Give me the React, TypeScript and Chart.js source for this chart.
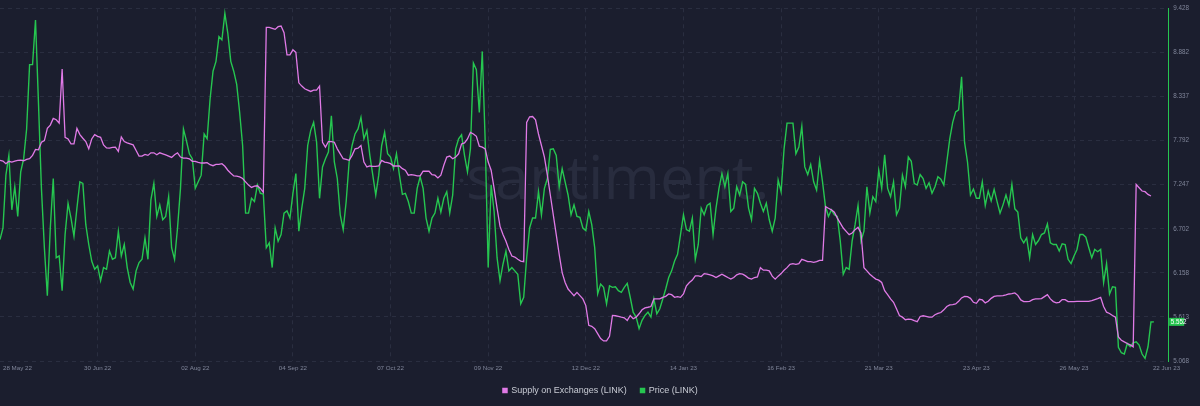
import { useEffect, useRef } from 'react';
import { Chart, registerables } from 'chart.js';

Chart.register(...registerables);

// ---- data (one value per day, day 0 = 28 May 2022) ----
const priceLink: number[] = [
  6.570, 6.712, 7.365, 7.610, 6.937, 7.222, 6.855, 7.406, 7.569, 7.936,
  8.731, 8.731, 9.282, 8.262, 7.202, 6.468, 5.876, 6.712, 7.324, 6.345,
  6.366, 5.937, 6.631, 7.018, 6.835, 6.610, 6.957, 7.283, 7.263, 6.753,
  6.508, 6.304, 6.202, 6.243, 6.060, 6.223, 6.202, 6.427, 6.325, 6.345,
  6.672, 6.366, 6.508, 6.223, 6.039, 5.958, 6.182, 6.284, 6.325, 6.590,
  6.325, 7.059, 7.263, 6.855, 6.998, 6.814, 6.855, 7.100, 6.468, 6.325,
  6.712, 7.202, 7.936, 7.793, 7.630, 7.569, 7.202, 7.283, 7.365, 7.875,
  7.814, 8.303, 8.650, 8.772, 9.078, 9.037, 9.364, 9.119, 8.772, 8.650,
  8.487, 8.140, 7.732, 6.896, 6.896, 7.079, 7.039, 7.243, 7.141, 7.132,
  6.468, 6.529, 6.223, 6.712, 6.549, 6.631, 6.896, 6.924, 6.835, 7.141,
  7.385, 6.672, 6.957,
  7.202, 7.732, 7.916, 8.018, 7.773, 7.079, 7.467, 7.569, 7.650, 8.099,
  7.528, 7.324, 6.875, 6.692, 7.039, 7.528, 7.732, 7.875, 7.936, 8.079,
  7.814, 7.916, 7.610, 7.365, 7.120, 7.365, 7.732, 7.895, 7.630, 7.589,
  7.446, 7.630, 7.365, 7.128, 7.141, 7.039, 6.896, 6.896, 7.202, 7.344,
  7.202, 6.835, 6.672, 6.835, 6.896, 7.079, 6.908, 7.079, 7.161, 6.896,
  7.120, 7.691, 7.814, 7.863, 7.610, 7.406, 7.691, 8.752, 8.670, 8.140,
  8.895, 7.773, 6.223, 7.243, 6.916, 6.345, 6.060, 6.264, 6.427, 6.182,
  6.223, 6.182, 6.141, 5.774, 5.856, 6.345, 6.712, 6.835, 6.835, 7.161,
  6.875, 7.202, 7.324, 7.683, 7.691, 7.610, 7.222, 7.446, 7.283, 7.120,
  6.875, 6.998, 6.855, 6.843, 6.712, 6.680, 6.916, 6.753, 6.468, 5.897,
  6.019, 5.978, 5.774, 5.998, 5.978, 5.986, 5.937, 5.917, 5.978, 6.027,
  5.856, 5.672, 5.611, 5.468, 5.570, 5.631, 5.672, 5.611, 5.835, 5.652,
  5.713, 5.835, 5.958, 6.100, 6.182, 6.304, 6.386, 6.631, 6.875, 6.692,
  6.672, 6.835, 6.325, 6.508, 6.957, 6.875, 6.990, 7.018, 6.631, 6.957,
  7.202, 7.385, 7.222, 7.385, 6.916, 6.957, 7.222, 7.120, 7.283, 7.251,
  6.957, 6.814, 7.202, 7.141, 7.018, 6.916, 7.018, 6.814, 6.672, 6.835,
  7.304, 7.161, 7.691, 8.009, 8.009, 8.009, 7.630, 7.712, 7.969, 7.467,
  7.373, 7.495, 7.283, 7.181, 7.548, 7.283, 6.977, 6.855, 6.937, 6.875,
  6.855, 6.549, 6.141, 6.223, 6.202, 6.549, 6.753, 6.990, 6.549, 6.672,
  7.222, 6.896, 7.100, 7.039, 7.426, 7.202, 7.618, 7.202, 7.100, 7.283,
  6.875, 6.957,
  7.365, 7.222, 7.589, 7.536, 7.263, 7.243, 7.373, 7.324, 7.202, 7.271,
  7.141, 7.222, 7.345, 7.316, 7.243, 7.528, 7.814, 8.018, 8.148, 8.173,
  8.580, 7.773, 7.528, 7.120, 7.194, 7.079, 7.079, 7.283, 6.990, 7.169,
  7.047, 7.190, 7.039, 6.896, 6.998, 7.120, 6.990, 7.251, 6.949, 6.908,
  6.590, 6.529, 6.590, 6.345, 6.631, 6.508, 6.557, 6.631, 6.651, 6.761,
  6.529, 6.508, 6.508, 6.427, 6.516, 6.508, 6.325, 6.272, 6.366, 6.447,
  6.631, 6.631, 6.598, 6.468, 6.345, 6.447, 6.419, 6.447, 6.039, 6.272,
  5.896, 5.986, 5.978, 5.236, 5.170, 5.154, 5.285, 5.244, 5.293, 5.305,
  5.264, 5.154, 5.101, 5.244, 5.550, 5.552,
];

const supplyLink: (number | null)[] = [
  130.27, 130.2, 129.93, 130.17, 130.1, 130.2, 130.27, 130.3, 130.23, 130.37,
  130.43, 130.77, 131.37, 131.33, 132.1, 132.27, 133.5, 133.83, 134.5, 134.37,
  134.03, 139.5, 132.6, 132.43, 131.93, 131.93, 133.5, 132.87, 132.5, 132.17,
  131.43, 132.43, 132.87, 132.7, 132.6, 131.83, 131.53, 131.5, 131.57, 131.6,
  131.17, 132.63, 132.17, 132.03, 131.93, 131.83, 131.27, 130.7, 130.7, 130.87,
  130.77, 131.03, 131.03, 130.83, 131.03, 130.93, 130.83, 130.7, 130.57, 130.83,
  131.03, 130.6, 130.5, 130.5, 130.43, 130.17, 130.17, 130.07, 130.0, 130.0,
  130.03, 129.83, 129.73, 129.87, 129.87, 129.93, 129.67, 129.27, 128.97, 128.7,
  128.67, 128.6, 128.43, 128.1, 127.77, 127.53, 127.67, 127.7, 127.43, 127.03,
  143.7, 143.7, 143.6, 143.5, 143.77, 143.83, 143.17, 140.93, 140.93, 141.43,
  141.17, 138.1, 137.77,
  137.5, 137.37, 137.23, 137.37, 137.37, 137.77, 132.1, 131.6, 132.17, 132.17,
  132.1, 131.43, 130.93, 130.43, 130.37, 130.27, 130.77, 131.43, 131.5, 131.77,
  130.1, 129.6, 129.7, 129.67, 129.67, 129.7, 130.27, 130.1, 130.03, 129.93,
  129.7, 129.7, 129.7, 129.43, 129.27, 128.77, 128.83, 128.77, 128.7, 128.7,
  129.17, 129.17, 129.17, 128.83, 128.77, 128.5, 128.77, 129.77, 130.6, 130.7,
  130.43, 130.6, 130.93, 131.93, 132.03, 132.43, 133.1, 132.93, 132.7, 131.7,
  131.6, 131.43, 130.1, 129.27, 127.43, 125.43, 123.6, 122.77, 122.1, 121.27,
  120.6, 120.5, 120.27, 120.1, 120.03, 134.1, 134.67, 134.7, 134.37, 132.93,
  131.77, 130.6, 128.77, 126.77, 124.77, 122.77, 120.77, 118.93, 117.93, 117.27,
  116.93, 116.6, 116.93, 116.6, 116.27, 115.6, 113.6, 113.5, 113.27, 112.77,
  112.27, 112.03, 112.03, 112.5, 114.6, 114.57, 114.5, 114.43, 114.37, 114.1,
  114.6, 114.27, 114.43, 114.77, 115.17, 115.37, 115.43, 115.5, 116.27, 116.27,
  116.27, 116.43, 116.53, 116.77, 116.7, 116.43, 116.5, 116.43, 116.77, 117.6,
  117.93, 118.17, 118.6, 118.6, 118.53, 118.83, 118.77, 118.7, 118.6, 118.43,
  118.6, 118.77, 118.6, 118.43, 118.27, 118.43, 118.7, 118.83, 118.77, 118.6,
  118.37, 118.27, 118.43, 118.5, 119.43, 119.17, 119.17, 119.1, 118.57, 118.27,
  118.57, 118.83, 119.17, 119.43, 119.77, 119.83, 119.77, 119.83, 120.27, 120.17,
  120.03, 120.03, 119.97, 120.03, 120.17, 120.17, 125.6, 125.43, 125.27, 125.03,
  124.43, 123.93, 123.43, 123.1, 122.77, 122.93, 123.27, 123.5, 122.93, 119.43,
  119.1, 118.77, 118.5, 118.27, 118.17, 117.93, 117.1, 116.7, 116.27, 115.93,
  115.27, 114.6,
  114.43, 114.17, 114.23, 114.2, 114.07, 113.97, 114.5, 114.57, 114.5, 114.43,
  114.43, 114.67, 114.8, 114.9, 115.17, 115.5, 115.67, 115.7, 115.77, 116.03,
  116.37, 116.53, 116.5, 116.33, 115.93, 115.83, 116.23, 116.17, 115.87, 116.03,
  116.33, 116.53, 116.57, 116.57, 116.6, 116.67, 116.77, 116.8, 116.87, 116.63,
  116.17, 116.0, 116.0, 116.03, 116.2, 116.27, 116.27, 116.3, 116.5, 116.7,
  116.27, 116.0, 115.87, 115.93, 116.2, 116.2, 116.0, 116.0, 116.0, 116.03,
  116.03, 116.03, 116.03, 116.03, 116.1, 116.2, 116.3, 116.43, 115.5, 114.93,
  114.8, 114.6, 114.43, 112.43, 112.1, 111.93, 111.77, 111.63, 111.43, 127.83,
  127.5, 127.17, 127.1, 126.83, 126.67, null,
];

const xTickDays = [0, 33, 66, 99, 132, 165, 198, 231, 264, 297, 330, 363, 390];
const xTickLabels = [
  '28 May 22', '30 Jun 22', '02 Aug 22', '04 Sep 22', '07 Oct 22', '09 Nov 22',
  '12 Dec 22', '14 Jan 23', '16 Feb 23', '21 Mar 23', '23 Apr 23', '26 May 23', '22 Jun 23',
];
const priceTicks = [5.068, 5.613, 6.158, 6.702, 7.247, 7.792, 8.337, 8.882, 9.428];
const supplyRange = [110, 145.63];
const seriesNames = ['Supply on Exchanges (LINK)', 'Price (LINK)'];

// ---- style ----
const BG = '#1b1e2e';
const GRID = '#2a2e40';
const GREEN = '#26c650';
const PINK = '#e07ae6';
const TICK = '#80869a';
const LEGEND_TEXT = '#c8cbd4';
const FONT = "'Liberation Sans', Arial, sans-serif";

const bgPlugin = {
  id: 'bg',
  beforeDraw(chart: any) {
    const { ctx, width, height } = chart;
    ctx.save();
    ctx.fillStyle = BG;
    ctx.fillRect(0, 0, width, height);
    ctx.restore();
  },
};

const watermarkPlugin = {
  id: 'watermark',
  beforeDatasetsDraw(chart: any) {
    const { ctx } = chart;
    ctx.save();
    ctx.fillStyle = '#282c3e';
    ctx.font = "61px 'Open Sans', sans-serif";
    ctx.textBaseline = 'alphabetic';
    ctx.textAlign = 'left';
    ctx.fillText('santiment.', 466, 199);
    ctx.beginPath();
    ctx.arc(461.5, 180.5, 2, 0, Math.PI * 2);
    ctx.fill();
    ctx.restore();
  },
};

const overlayPlugin = {
  id: 'overlay',
  afterDraw(chart: any) {
    const { ctx } = chart;
    const xs = chart.scales.x;
    const ys = chart.scales.yPrice;
    const area = chart.chartArea;
    ctx.save();
    // x labels
    ctx.font = `6.2px ${FONT}`;
    ctx.fillStyle = TICK;
    ctx.textBaseline = 'middle';
    xTickDays.forEach((d, i) => {
      const px = xs.getPixelForValue(d);
      if (i === 0) {
        ctx.textAlign = 'left';
        ctx.fillText(xTickLabels[i], px + 3, 368);
      } else if (i === xTickDays.length - 1) {
        ctx.textAlign = 'left';
        ctx.fillText(xTickLabels[i], px - 1, 368);
      } else {
        ctx.textAlign = 'center';
        ctx.fillText(xTickLabels[i], px, 368);
      }
    });
    // last price tag
    const last = priceLink[priceLink.length - 1];
    const py = ys.getPixelForValue(last);
    ctx.fillStyle = GREEN;
    ctx.fillRect(area.right + 0.5, py - 4, 15, 8);
    ctx.fillStyle = '#ffffff';
    ctx.font = `6.3px ${FONT}`;
    ctx.textAlign = 'left';
    ctx.fillText(last.toFixed(3), area.right + 2, py + 0.5);
    // legend
    ctx.font = `9px ${FONT}`;
    const box = 5.5;
    const gap = 3.5;
    const itemGap = 13;
    const colors = [PINK, GREEN];
    const widths = seriesNames.map((n) => ctx.measureText(n).width);
    const total = widths.reduce((a, w) => a + box + gap + w, 0) + itemGap * (seriesNames.length - 1);
    let lx = chart.width / 2 - total / 2;
    const ly = 390.5;
    seriesNames.forEach((n, i) => {
      ctx.fillStyle = colors[i];
      ctx.fillRect(lx, ly - box / 2, box, box);
      ctx.fillStyle = LEGEND_TEXT;
      ctx.textAlign = 'left';
      ctx.textBaseline = 'middle';
      ctx.fillText(n, lx + box + gap, ly + 0.5);
      lx += box + gap + widths[i] + itemGap;
    });
    ctx.restore();
  },
};

export default function App() {
  const ref = useRef<HTMLCanvasElement>(null);
  useEffect(() => {
    document.body.style.margin = '0';
    document.body.style.background = BG;
    const canvas = ref.current;
    if (!canvas) return;
    const chart = new Chart(canvas, {
      type: 'line',
      data: {
        datasets: [
          {
            label: seriesNames[0],
            data: supplyLink.map((v, i) => ({ x: i, y: v })) as any,
            yAxisID: 'ySupply',
            borderColor: PINK,
            backgroundColor: PINK,
            borderWidth: 1.3,
            pointRadius: 0,
            tension: 0,
          },
          {
            label: seriesNames[1],
            data: priceLink.map((v, i) => ({ x: i, y: v })) as any,
            yAxisID: 'yPrice',
            borderColor: GREEN,
            backgroundColor: GREEN,
            borderWidth: 1.4,
            pointRadius: 0,
            tension: 0,
          },
        ],
      },
      options: {
        responsive: false,
        animation: false,
        devicePixelRatio: 1,
        layout: { padding: { top: 4.7, bottom: 45, left: 0, right: 0 } },
        plugins: { legend: { display: false }, tooltip: { enabled: false } },
        scales: {
          x: {
            type: 'linear',
            min: 0,
            max: 395,
            grid: { color: GRID, drawTicks: false, lineWidth: 1 },
            border: { display: false, dash: [4, 4] },
            ticks: { display: false },
            afterBuildTicks: (s: any) => {
              s.ticks = xTickDays.slice(1, -1).map((v) => ({ value: v }));
            },
          },
          yPrice: {
            type: 'linear',
            position: 'right',
            min: priceTicks[0],
            max: priceTicks[priceTicks.length - 1],
            grid: { color: GRID, drawTicks: false, lineWidth: 1 },
            border: { display: true, color: GREEN, width: 1, dash: [4, 4] },
            ticks: {
              color: TICK,
              font: { size: 6.3, family: FONT },
              padding: 4.5,
              callback: (v: any) => Number(v).toFixed(3),
            },
            afterBuildTicks: (s: any) => {
              s.ticks = priceTicks.map((v) => ({ value: v }));
            },
            afterFit: (s: any) => {
              s.width = 31.3;
            },
          },
          ySupply: {
            type: 'linear',
            display: false,
            min: supplyRange[0],
            max: supplyRange[1],
          },
        },
      },
      plugins: [bgPlugin, watermarkPlugin, overlayPlugin],
    });
    return () => chart.destroy();
  }, []);
  return (
    <div style={{ width: 1200, height: 406, background: BG }}>
      <canvas ref={ref} width={1200} height={406} style={{ display: 'block' }} />
    </div>
  );
}
